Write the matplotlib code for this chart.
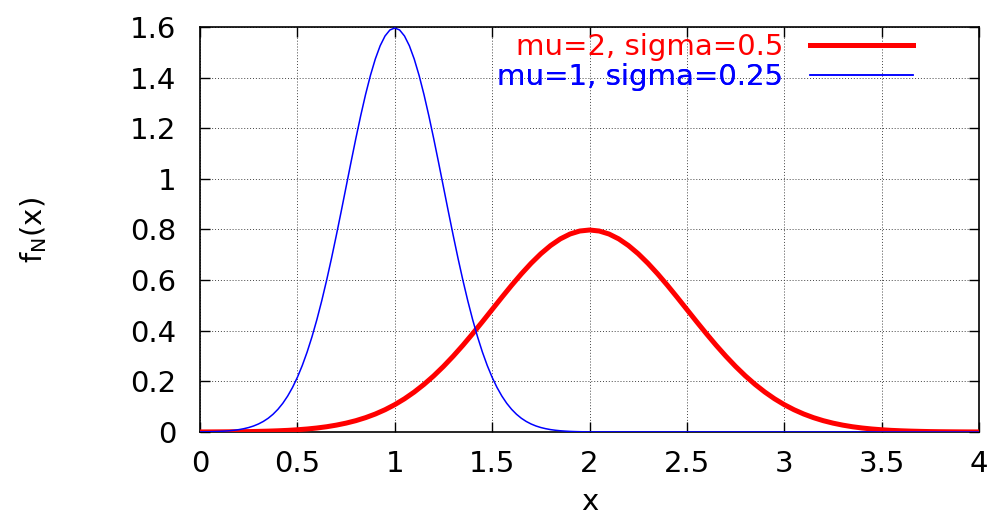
import numpy as np
import matplotlib
matplotlib.use("Agg")
from matplotlib import pyplot as plt

# sample positions (x) and pdf values
blue_x = list(np.round(np.arange(0, 81) * 0.025, 3)) + [4.0]
blue_y = [0.0005, 0.0008, 0.0012, 0.0017, 0.0024, 0.0035, 0.0049, 0.0069, 0.0095, 0.0131,
          0.0177, 0.0238, 0.0317, 0.0417, 0.0543, 0.0701, 0.0896, 0.1133, 0.1419, 0.1759,
          0.2160, 0.2625, 0.3158, 0.3762, 0.4437, 0.5181, 0.5989, 0.6855, 0.7768, 0.8714,
          0.9679, 1.0644, 1.1588, 1.2490, 1.3329, 1.4083, 1.4731, 1.5256, 1.5642, 1.5879,
          1.5958,
          1.5879, 1.5642, 1.5256, 1.4731, 1.4083, 1.3329, 1.2490, 1.1588, 1.0644, 0.9679,
          0.8714, 0.7768, 0.6855, 0.5989, 0.5181, 0.4437, 0.3762, 0.3158, 0.2625, 0.2160,
          0.1759, 0.1419, 0.1133, 0.0896, 0.0701, 0.0543, 0.0417, 0.0317, 0.0238, 0.0177,
          0.0131, 0.0095, 0.0069, 0.0049, 0.0035, 0.0024, 0.0017, 0.0012, 0.0008, 0.0005,
          0.0]

red_x = np.round(np.arange(0, 81) * 0.05, 2)
red_y = [0.0003, 0.0004, 0.0006, 0.0009, 0.0012, 0.0017, 0.0025, 0.0035, 0.0048, 0.0065,
         0.0089, 0.0119, 0.0158, 0.0208, 0.0272, 0.0351, 0.0448, 0.0567, 0.0710, 0.0880,
         0.1080, 0.1312, 0.1579, 0.1881, 0.2218, 0.2590, 0.2995, 0.3427, 0.3884, 0.4357,
         0.4839, 0.5322, 0.5794, 0.6245, 0.6664, 0.7041, 0.7365, 0.7628, 0.7821, 0.7939,
         0.7979,
         0.7939, 0.7821, 0.7628, 0.7365, 0.7041, 0.6664, 0.6245, 0.5794, 0.5322, 0.4839,
         0.4357, 0.3884, 0.3427, 0.2995, 0.2590, 0.2218, 0.1881, 0.1579, 0.1312, 0.1080,
         0.0880, 0.0710, 0.0567, 0.0448, 0.0351, 0.0272, 0.0208, 0.0158, 0.0119, 0.0089,
         0.0065, 0.0048, 0.0035, 0.0025, 0.0017, 0.0012, 0.0009, 0.0006, 0.0004, 0.0003]

red_label = "mu=2, sigma=0.5"
blue_label = "mu=1, sigma=0.25"

x_ticks = [0, 0.5, 1, 1.5, 2, 2.5, 3, 3.5, 4]
x_tick_labels = ["0", "0.5", "1", "1.5", "2", "2.5", "3", "3.5", "4"]
y_ticks = [0, 0.2, 0.4, 0.6, 0.8, 1, 1.2, 1.4, 1.6]
y_tick_labels = ["0", "0.2", "0.4", "0.6", "0.8", "1", "1.2", "1.4", "1.6"]

plt.rcParams['font.family'] = ['DejaVu Sans']

fig = plt.figure(figsize=(9.98, 5.18), dpi=100)
ax = fig.add_axes([0.2004, 0.166, 0.7806, 0.782])

red_line, = ax.plot(red_x, red_y, color='#ff0000', linewidth=3.6, zorder=3)
blue_line, = ax.plot(blue_x, blue_y, color='#0000ff', linewidth=1.1, zorder=4)

ax.set_xlim(0, 4)
ax.set_ylim(0, 1.6)
ax.set_xticks(x_ticks)
ax.set_xticklabels(x_tick_labels)
ax.set_yticks(y_ticks)
ax.set_yticklabels(y_tick_labels)
ax.tick_params(direction='in', length=7, width=1, top=True, right=True,
               labelsize=21)
ax.tick_params(axis='x', pad=13)
ax.tick_params(axis='y', pad=17)
ax.grid(True, color='#444444', linestyle=(0, (1, 2)), linewidth=0.7)
for sp in ax.spines.values():
    sp.set_linewidth(1.2)

ax.set_xlabel("x", fontsize=21, labelpad=7)
ax.set_ylabel(r"f$_\mathregular{N}$(x)", fontsize=21, labelpad=58)

# gnuplot-style key: text right-aligned, sample line on the right, one row each
legends = []
for line, label, ypos in [(red_line, red_label, 0.9506), (blue_line, blue_label, 0.8765)]:
    lg = ax.legend([line], [label], loc='center right', bbox_to_anchor=(0.915, ypos),
                   frameon=False, fontsize=21, markerfirst=False, handlelength=3.53,
                   handletextpad=0.92, borderpad=0, borderaxespad=0,
                   labelcolor='linecolor')
    legends.append(lg)
    ax.add_artist(lg)

fig.savefig("out.png", dpi=100)
